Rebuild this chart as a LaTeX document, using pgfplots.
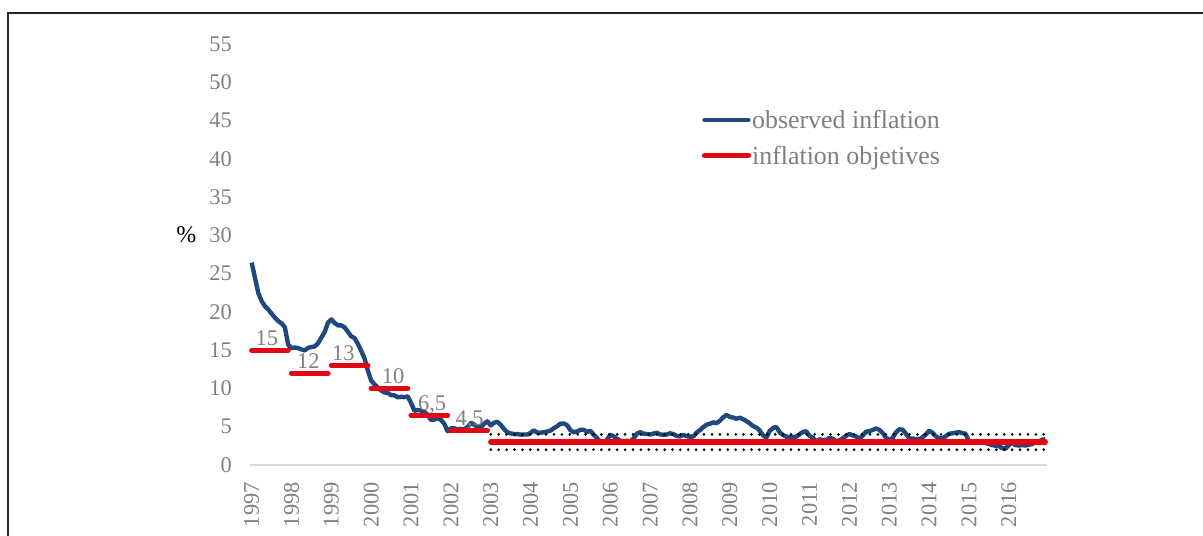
\documentclass[border=0pt]{standalone}
\usepackage{pgfplots}
\pgfplotsset{compat=1.18}
\usepackage{pgfplotstable}
\usepackage{fontspec}
\setmainfont{Liberation Serif}
\definecolor{infblue}{HTML}{1F497D}
\definecolor{infred}{HTML}{E30613}
\definecolor{txtgray}{HTML}{7F7F7F}
\definecolor{axgray}{HTML}{D9D9D9}

\pgfplotstableread{
y m v
1997 1 26.44
1997 2 24.46
1997 3 22.47
1997 4 21.42
1997 5 20.75
1997 6 20.32
1997 7 19.78
1997 8 19.25
1997 9 18.80
1997 10 18.51
1997 11 17.99
1997 12 15.72
1998 1 15.27
1998 2 15.35
1998 3 15.27
1998 4 15.10
1998 5 14.97
1998 6 15.31
1998 7 15.41
1998 8 15.49
1998 9 15.92
1998 10 16.65
1998 11 17.41
1998 12 18.61
1999 1 19.02
1999 2 18.54
1999 3 18.25
1999 4 18.23
1999 5 17.98
1999 6 17.39
1999 7 16.80
1999 8 16.58
1999 9 15.81
1999 10 14.91
1999 11 13.92
1999 12 12.32
2000 1 11.02
2000 2 10.52
2000 3 10.11
2000 4 9.73
2000 5 9.48
2000 6 9.41
2000 7 9.12
2000 8 9.10
2000 9 8.85
2000 10 8.91
2000 11 8.87
2000 12 8.96
2001 1 8.11
2001 2 7.09
2001 3 7.17
2001 4 7.11
2001 5 6.95
2001 6 6.57
2001 7 5.88
2001 8 5.93
2001 9 6.14
2001 10 5.89
2001 11 5.39
2001 12 4.40
2002 1 4.79
2002 2 4.79
2002 3 4.66
2002 4 4.70
2002 5 4.68
2002 6 4.94
2002 7 5.51
2002 8 5.29
2002 9 4.95
2002 10 4.94
2002 11 5.39
2002 12 5.70
2003 1 5.16
2003 2 5.52
2003 3 5.64
2003 4 5.25
2003 5 4.70
2003 6 4.27
2003 7 4.13
2003 8 4.04
2003 9 4.04
2003 10 3.96
2003 11 3.98
2003 12 3.98
2004 1 4.20
2004 2 4.53
2004 3 4.23
2004 4 4.21
2004 5 4.29
2004 6 4.37
2004 7 4.49
2004 8 4.82
2004 9 5.06
2004 10 5.40
2004 11 5.43
2004 12 5.19
2005 1 4.54
2005 2 4.27
2005 3 4.39
2005 4 4.60
2005 5 4.60
2005 6 4.33
2005 7 4.47
2005 8 3.95
2005 9 3.51
2005 10 3.05
2005 11 2.91
2005 12 3.33
2006 1 3.94
2006 2 3.75
2006 3 3.41
2006 4 3.20
2006 5 3.00
2006 6 3.18
2006 7 3.06
2006 8 3.47
2006 9 4.09
2006 10 4.29
2006 11 4.09
2006 12 4.05
2007 1 3.98
2007 2 4.11
2007 3 4.21
2007 4 3.99
2007 5 3.95
2007 6 3.98
2007 7 4.14
2007 8 4.03
2007 9 3.79
2007 10 3.74
2007 11 3.93
2007 12 3.76
2008 1 3.70
2008 2 3.72
2008 3 4.25
2008 4 4.55
2008 5 4.95
2008 6 5.26
2008 7 5.39
2008 8 5.57
2008 9 5.47
2008 10 5.78
2008 11 6.23
2008 12 6.53
2009 1 6.28
2009 2 6.20
2009 3 6.04
2009 4 6.17
2009 5 5.98
2009 6 5.74
2009 7 5.44
2009 8 5.08
2009 9 4.89
2009 10 4.50
2009 11 3.86
2009 12 3.57
2010 1 4.46
2010 2 4.83
2010 3 4.97
2010 4 4.27
2010 5 3.92
2010 6 3.69
2010 7 3.64
2010 8 3.68
2010 9 3.70
2010 10 4.02
2010 11 4.32
2010 12 4.40
2011 1 3.78
2011 2 3.57
2011 3 3.04
2011 4 3.36
2011 5 3.25
2011 6 3.28
2011 7 3.55
2011 8 3.42
2011 9 3.14
2011 10 3.20
2011 11 3.48
2011 12 3.82
2012 1 4.05
2012 2 3.87
2012 3 3.73
2012 4 3.41
2012 5 3.85
2012 6 4.34
2012 7 4.42
2012 8 4.57
2012 9 4.77
2012 10 4.60
2012 11 4.18
2012 12 3.57
2013 1 3.25
2013 2 3.55
2013 3 4.25
2013 4 4.65
2013 5 4.63
2013 6 4.09
2013 7 3.47
2013 8 3.46
2013 9 3.39
2013 10 3.36
2013 11 3.62
2013 12 3.97
2014 1 4.48
2014 2 4.23
2014 3 3.76
2014 4 3.50
2014 5 3.51
2014 6 3.75
2014 7 4.07
2014 8 4.15
2014 9 4.22
2014 10 4.30
2014 11 4.17
2014 12 4.08
2015 1 3.07
2015 2 3.00
2015 3 3.14
2015 4 3.06
2015 5 2.88
2015 6 2.87
2015 7 2.74
2015 8 2.59
2015 9 2.52
2015 10 2.48
2015 11 2.21
2015 12 2.13
2016 1 2.61
2016 2 2.87
2016 3 2.60
2016 4 2.54
2016 5 2.60
2016 6 2.54
2016 7 2.65
2016 8 2.73
2016 9 2.97
2016 10 3.06
2016 11 3.31
2016 12 3.36
}\inflation

\begin{document}
\begin{tikzpicture}
\path[use as bounding box] (0,0) rectangle (1203bp,536bp);
\draw[line width=1.6bp, black!85] (8bp,-10bp) -- (8bp,523bp) -- (1215bp,523bp);
\begin{axis}[
  at={(250bp,71bp)}, anchor=south west,
  scale only axis, width=797bp, height=421bp,
  xmin=1996.9583, xmax=2016.9583,
  ymin=0, ymax=55,
  axis x line=bottom, axis y line=left,
  x axis line style={-, draw=axgray, line width=1.2bp},
  y axis line style={draw=none},
  major tick length=0pt,
  xtick={1997,1998,...,2016},
  xticklabels={1997,1998,1999,2000,2001,2002,2003,2004,2005,2006,2007,2008,2009,2010,2011,2012,2013,2014,2015,2016},
  ytick={0,5,...,55},
  tick label style={font=\fontsize{22.5}{26}\selectfont, text=txtgray, inner sep=0pt},
  /pgf/number format/assume math mode=true,
  xticklabel style={rotate=90, anchor=east},
  xticklabel shift=17bp,
  yticklabel shift=18bp,
  ylabel={\%},
  ylabel style={rotate=-90, font=\fontsize{24}{28}\selectfont, text=black, at={(axis description cs:-0.08,0.546)}, anchor=center},
  legend cell align=left,
  legend image code/.code={\draw[#1, line cap=round] (0bp,0bp) -- (44bp,0bp);},
  legend style={draw=none, fill=none, at={(axis description cs:0.563,0.777)}, anchor=west,
    font=\fontsize{26}{30}\selectfont, text=txtgray, row sep=14bp, nodes={inner sep=1bp}},
  clip=false,
]
\addplot[infblue, line width=4.4bp, line join=round] table[x expr=\thisrow{y}+(\thisrow{m}-1)/12, y=v] {\inflation};
\addlegendentry{observed inflation\vphantom{j}}
\addplot[black, line width=3bp, line cap=round, dash pattern=on 0pt off 7.9bp, forget plot] coordinates {(2003,4) (2016.9167,4)};
\addplot[black, line width=3bp, line cap=round, dash pattern=on 0pt off 7.9bp, forget plot] coordinates {(2003,2) (2016.9167,2)};
\addplot[infred, line width=5.2bp, line cap=round, unbounded coords=jump] coordinates {
  (1997,15) (1997.9167,15) (1997.96,nan)
  (1998,12) (1998.9167,12) (1998.96,nan)
  (1999,13) (1999.9167,13) (1999.96,nan)
  (2000,10) (2000.9167,10) (2000.96,nan)
  (2001,6.5) (2001.9167,6.5) (2001.96,nan)
  (2002,4.5) (2002.9167,4.5) (2002.96,nan)
  (2003,3) (2016.9167,3)
};
\addlegendentry{inflation objetives}
\begin{scope}[every node/.style={anchor=base, font=\fontsize{22.5}{26}\selectfont, text=txtgray, inner sep=0pt, yshift=5bp}]
\node at (axis cs:1997.38,15) {15};
\node at (axis cs:1998.42,12) {12};
\node at (axis cs:1999.30,13) {13};
\node at (axis cs:2000.55,10) {10};
\node at (axis cs:2001.53,6.5) {6,5};
\node at (axis cs:2002.47,4.5) {4,5};
\end{scope}
\end{axis}
\end{tikzpicture}
\end{document}
